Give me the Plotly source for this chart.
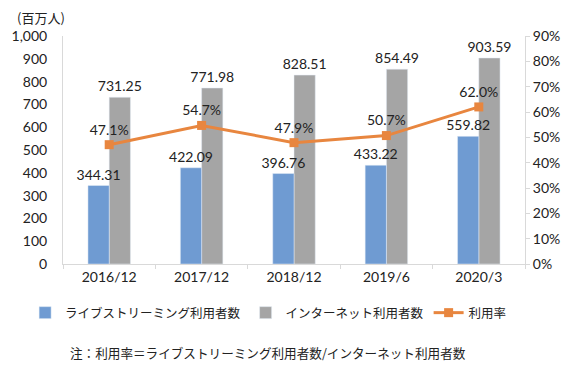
import plotly.graph_objects as go

categories = ["2016/12", "2017/12", "2018/12", "2019/6", "2020/3"]
live_users = [344.31, 422.09, 396.76, 433.22, 559.82]
internet_users = [731.25, 771.98, 828.51, 854.49, 903.59]
usage_rate = [47.1, 54.7, 47.9, 50.7, 62.0]

left_ticks = [0, 100, 200, 300, 400, 500, 600, 700, 800, 900, 1000]
left_tick_text = ["0", "100", "200", "300", "400", "500", "600", "700", "800", "900", "1,000"]
right_ticks = [0, 10, 20, 30, 40, 50, 60, 70, 80, 90]
right_tick_text = [f"{v}%" for v in right_ticks]

NUM_FONT = "Lato, Open Sans, sans-serif"
JP_FONT = "Noto Sans CJK JP, sans-serif"

fig = go.Figure()
# gray first so that the blue labels are drawn above the gray bars
fig.add_trace(go.Bar(
    x=categories, y=internet_users, name="インターネット利用者数",
    marker=dict(color="#A5A5A5"), width=0.23, offset=0.0, legendrank=2,
    text=[f"{v:.2f}" for v in internet_users], textposition="outside",
    textfont=dict(size=14, color="#222", family=NUM_FONT), cliponaxis=False,
))
fig.add_trace(go.Bar(
    x=categories, y=live_users, name="ライブストリーミング利用者数",
    marker=dict(color="#6F9BD2"), width=0.23, offset=-0.23, legendrank=1,
    text=[f"{v:.2f}" for v in live_users], textposition="outside",
    textfont=dict(size=14, color="#222", family=NUM_FONT), cliponaxis=False,
))
fig.add_trace(go.Scatter(
    x=categories, y=usage_rate, name="利用率", yaxis="y2", legendrank=3,
    mode="lines+markers+text",
    line=dict(color="#E8863F", width=3),
    marker=dict(symbol="square", size=9, color="#E8863F"),
    text=[f"{v:.1f}%" for v in usage_rate], textposition="top center",
    textfont=dict(size=14, color="#222", family=NUM_FONT), cliponaxis=False,
))

fig.update_layout(
    width=580, height=373,
    margin=dict(l=63, r=55, t=36, b=109, autoexpand=False),
    paper_bgcolor="white", plot_bgcolor="white",
    barmode="overlay",
    uniformtext=dict(minsize=14, mode="show"),
    showlegend=True,
    legend=dict(orientation="h", x=-0.082, xanchor="left", y=-0.215, yanchor="middle",
                font=dict(size=12.5, color="#222", family=JP_FONT),
                itemwidth=30, tracegroupgap=0),
    xaxis=dict(
        showline=True, linecolor="#D9D9D9", linewidth=1,
        ticks="outside", tickson="boundaries", ticklen=4, tickcolor="#D9D9D9",
        tickfont=dict(size=14, color="#222", family=NUM_FONT),
        showgrid=False,
    ),
    yaxis=dict(
        range=[0, 1000], tickvals=left_ticks, ticktext=left_tick_text,
        showline=True, linecolor="#D9D9D9", linewidth=1,
        showgrid=False, zeroline=False, ticks="", ticklabelstandoff=12,
        tickfont=dict(size=14, color="#222", family=NUM_FONT),
    ),
    yaxis2=dict(
        range=[0, 90], tickvals=right_ticks, ticktext=right_tick_text,
        overlaying="y", side="right",
        showline=True, linecolor="#D9D9D9", linewidth=1,
        showgrid=False, zeroline=False, ticks="outside", ticklen=4, tickcolor="#D9D9D9",
        tickfont=dict(size=14, color="#222", family=NUM_FONT),
    ),
    annotations=[
        dict(text="(百万人)", xref="paper", yref="paper", x=-0.104, y=1.083,
             xanchor="left", yanchor="middle", showarrow=False,
             font=dict(size=13, color="#222", family=JP_FONT)),
        dict(text="注：利用率＝ライブストリーミング利用者数/インターネット利用者数",
             xref="paper", yref="paper", x=0.444, y=-0.386, xanchor="center", yanchor="middle",
             showarrow=False, font=dict(size=12.6, color="#222", family=JP_FONT)),
    ],
)

fig.write_html("out.html", config={"displayModeBar": False},
               post_script="document.body.style.margin='0';")
